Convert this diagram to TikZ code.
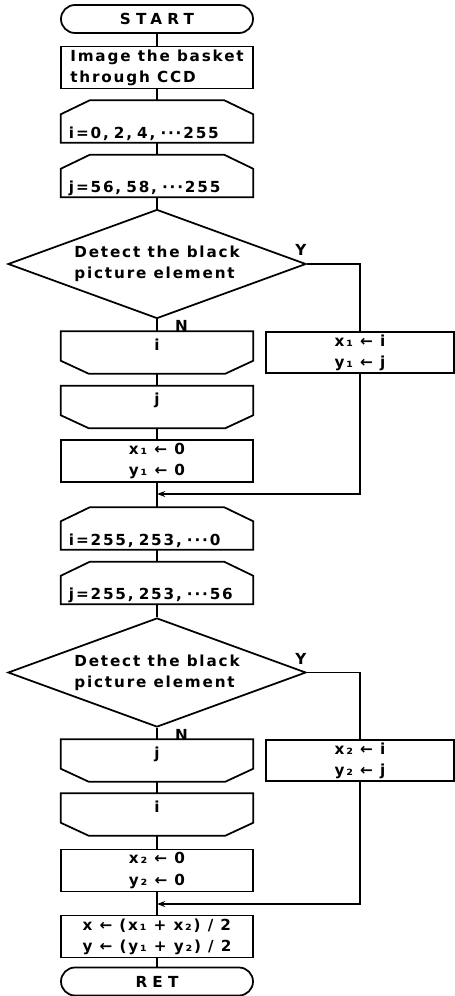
\documentclass[tikz,border=0pt]{standalone}
\usepackage{fontspec}
\usetikzlibrary{arrows.meta,positioning,shapes.geometric,calc}
\newfontfamily\chartfont[LetterSpace=12]{DejaVu Sans}
\newfontfamily\termfont[LetterSpace=34]{DejaVu Sans}

\begin{document}
\begin{tikzpicture}[
    x=0.03cm, y=-0.03cm,
    chart/.style={font=\chartfont\bfseries\fontsize{13}{18}\selectfont},
    termbox/.style={rectangle, draw, line width=1.5pt, rounded corners=0.42cm, minimum width=5.76cm, minimum height=0.84cm, inner sep=0pt, font=\termfont\bfseries\fontsize{13}{18}\selectfont},
    procbox/.style={chart, rectangle, draw, line width=1.5pt, minimum width=5.76cm, minimum height=1.26cm, inner sep=0pt, align=left},
    loopopen/.style={chart, rectangle, minimum width=5.76cm, inner ysep=0pt, inner xsep=0.24cm, text width=5.28cm, align=left, text height=1.13cm, text depth=0.13cm},
    loopclose/.style={chart, rectangle, minimum width=5.76cm, inner ysep=0pt, align=center, text height=0.56cm, text depth=0.7cm},
    decide/.style={chart, diamond, draw, line width=1.5pt, minimum width=8.94cm, minimum height=3.27cm, shape aspect=2.7, inner sep=0pt, align=left},
    setbox/.style={procbox, minimum width=5.64cm, minimum height=1.23cm},
    outline/.style={line width=1.5pt, line join=miter},
    flow/.style={line width=1.5pt},
    merge/.style={line width=1.5pt, -{Stealth[length=7pt,width=5pt]}},
    yn/.style={chart, inner sep=0pt}
]
    \useasboundingbox (0,0) rectangle (455,996);

    % First scan
    \node[termbox] (start) at (157,19) {START};
    \node[procbox] (image) at (157,67.5) {Image the basket\\through CCD};
    \node[loopopen] (loopi) at (157,121.5) {i=0, 2, 4, ···255};
    \node[loopopen] (loopj) at (157,176) {j=56, 58, ···255};
    \node[decide] (detecta) at (157,264) {Detect the black\\picture element};
    \node[loopclose] (endi) at (157,352.5) {i};
    \node[setbox] (seta) at (360,352.5) {x₁ ← i\\y₁ ← j};
    \node[loopclose] (endj) at (157,407) {j};
    \node[procbox] (zeroa) at (157,461) {x₁ ← 0\\y₁ ← 0};
    \coordinate (joina) at (157,494);

    % Second scan
    \node[loopopen] (loopib) at (157,528.5) {i=255, 253, ···0};
    \node[loopopen] (loopjb) at (157,583) {j=255, 253, ···56};
    \node[decide] (detectb) at (157,672.5) {Detect the black\\picture element};
    \node[loopclose] (endjb) at (157,760.5) {j};
    \node[setbox] (setb) at (360,760.5) {x₂ ← i\\y₂ ← j};
    \node[loopclose] (endib) at (157,814.5) {i};
    \node[procbox] (zerob) at (157,870.5) {x₂ ← 0\\y₂ ← 0};
    \coordinate (joinb) at (157,904);
    \node[procbox] (mean) at (157,936.5) {x ← (x₁ + x₂) / 2\\y ← (y₁ + y₂) / 2};
    \node[termbox] (ret) at (157,981.5) {RET};

    % Loop outlines
    \foreach \n in {loopi,loopj,loopib,loopjb}
        \draw[outline] (\n.south west) -- ($(\n.north west)+(0,14)$) -- ($(\n.north west)+(29,0)$) -- ($(\n.north east)+(-29,0)$) -- ($(\n.north east)+(0,14)$) -- (\n.south east) -- cycle;
    \foreach \n in {endi,endj,endjb,endib}
        \draw[outline] (\n.north west) -- ($(\n.south west)+(0,-13)$) -- ($(\n.south west)+(28,0)$) -- ($(\n.south east)+(-28,0)$) -- ($(\n.south east)+(0,-13)$) -- (\n.north east) -- cycle;

    % Main flow
    \draw[flow] (start) -- (image);
    \draw[flow] (image) -- (loopi);
    \draw[flow] (loopi) -- (loopj);
    \draw[flow] (loopj) -- (detecta);
    \draw[flow] (detecta) -- (endi);
    \draw[flow] (endi) -- (endj);
    \draw[flow] (endj) -- (zeroa);
    \draw[flow] (zeroa) -- (loopib);
    \draw[flow] (loopib) -- (loopjb);
    \draw[flow] (loopjb) -- (detectb);
    \draw[flow] (detectb) -- (endjb);
    \draw[flow] (endjb) -- (endib);
    \draw[flow] (endib) -- (zerob);
    \draw[flow] (zerob) -- (mean);
    \draw[flow] (mean) -- (ret);

    % Yes branches
    \draw[flow] (detecta.east) -| (seta.north);
    \draw[merge] (seta.south) |- (joina);
    \draw[flow] (detectb.east) -| (setb.north);
    \draw[merge] (setb.south) |- (joinb);

    % Branch labels
    \node[yn, anchor=south] (ya) at ($(detecta.east)+(-6,-8)$) {Y};
    \node[yn, anchor=north west] (na) at ($(detecta.south)+(18,1)$) {N};
    \node[yn, anchor=south] (yb) at ($(detectb.east)+(-6,-8)$) {Y};
    \node[yn, anchor=north west] (nb) at ($(detectb.south)+(18,1)$) {N};

\end{tikzpicture}
\end{document}
